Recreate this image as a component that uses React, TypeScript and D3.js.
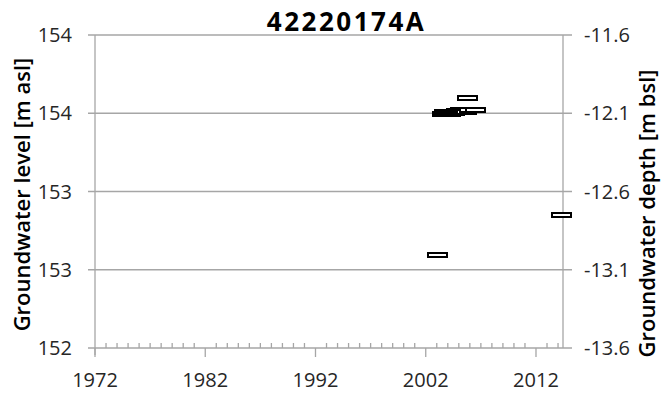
import React from "react";
import * as d3 from "d3";

const chartTitle = "42220174A";
const leftAxisTitle = "Groundwater level [m asl]";
const rightAxisTitle = "Groundwater depth [m bsl]";

// Observation dates (decimal years) and groundwater levels [m asl]
const obsDates = [
  2003.07, 2003.564, 2003.746, 2003.927, 2004.109, 2004.29, 2004.472, 2004.653, 2004.834,
  2005.016, 2005.197, 2005.379, 2005.56, 2005.741, 2005.832, 2006.014, 2006.512, 2014.27,
];
const obsLevels = [
  152.594, 153.495, 153.505, 153.495, 153.508, 153.498, 153.511, 153.502, 153.514,
  153.505, 153.518, 153.508, 153.518, 153.508, 153.597, 153.518, 153.518, 152.847,
];

const leftTickValues = [152, 152.5, 153, 153.5, 154];
const leftTickLabels = ["152", "153", "153", "154", "154"];
const rightTickValues = [-13.6, -13.1, -12.6, -12.1, -11.6];
const rightTickLabels = ["-13.6", "-13.1", "-12.6", "-12.1", "-11.6"];
const xMajorTicks = [1972, 1982, 1992, 2002, 2012];
const xMajorLabels = ["1972", "1982", "1992", "2002", "2012"];
const xDomain = [1972, 2014.45];
const yDomain = [152, 154];
const depthDomain = [-13.6, -11.6];

const W = 662;
const H = 398;
const M = { left: 95, right: 99, top: 35, bottom: 50 };

export default function App() {
  const x = d3.scaleLinear().domain(xDomain).range([M.left, W - M.right]);
  const y = d3.scaleLinear().domain(yDomain).range([H - M.bottom, M.top]);
  const yR = d3.scaleLinear().domain(depthDomain).range([H - M.bottom, M.top]);
  const minorYears = d3.range(Math.ceil(xDomain[0]), Math.floor(xDomain[1]) + 1).filter((v) => !xMajorTicks.includes(v));
  const x0 = x(xDomain[0]);
  const x1 = x(xDomain[1]);
  const yb = y(yDomain[0]);
  const yt = y(yDomain[1]);
  const grid = "#a6a6a6";
  const font = "'Open Sans', sans-serif";
  const txt = "#262626";
  const mw = 19;
  const mh = 4;

  return (
    <svg width={W} height={H} style={{ position: "absolute", left: 0, top: 0, background: "#fff" }}>
      <rect width={W} height={H} fill="#fff" />
      {leftTickValues.map((v, i) => (
        <g key={"g" + i}>
          <line x1={x0 - 7} x2={x1 + 9} y1={y(v)} y2={y(v)} stroke={grid} strokeWidth={1.3} />
          <text x={72} y={y(v)} dy="0.35em" textAnchor="end" fontFamily={font} fontSize={20} fill={txt}>
            {leftTickLabels[i]}
          </text>
        </g>
      ))}
      {rightTickValues.map((v, i) => (
        <text key={"r" + i} x={584} y={yR(v)} dy="0.35em" textAnchor="start" fontFamily={font} fontSize={20} fill={txt}>
          {rightTickLabels[i]}
        </text>
      ))}
      <line x1={x0} x2={x0} y1={yt} y2={yb + 7} stroke={grid} strokeWidth={1.3} />
      <line x1={x1} x2={x1} y1={yt} y2={yb} stroke={grid} strokeWidth={1.3} />
      {xMajorTicks.map((v, i) => (
        <g key={"x" + i}>
          <line x1={x(v)} x2={x(v)} y1={yb} y2={yb + 9} stroke={grid} strokeWidth={1.3} />
          <text x={x(v)} y={387} textAnchor="middle" fontFamily={font} fontSize={20} fill={txt}>
            {xMajorLabels[i]}
          </text>
        </g>
      ))}
      {minorYears.map((v) => (
        <line key={"m" + v} x1={x(v)} x2={x(v)} y1={yb - 5} y2={yb} stroke={grid} strokeWidth={1.3} />
      ))}
      {obsDates.map((d, i) => (
        <rect
          key={"p" + i}
          x={Math.round(x(d) - mw / 2)}
          y={Math.round(y(obsLevels[i]) - mh / 2)}
          width={mw}
          height={mh}
          fill="#fff"
          stroke="#000"
          strokeWidth={2}
        />
      ))}
      <text x={346.5} y={31} textAnchor="middle" fontFamily={font} fontWeight={700} fontSize={26} letterSpacing={2.5} fill="#000">
        {chartTitle}
      </text>
      <text transform={`translate(30,194.5) rotate(-90)`} textAnchor="middle" fontFamily={font} fontWeight={600} fontSize={22} fill="#000">
        {leftAxisTitle}
      </text>
      <text transform={`translate(655,213.5) rotate(-90)`} textAnchor="middle" fontFamily={font} fontWeight={600} fontSize={22} fill="#000">
        {rightAxisTitle}
      </text>
    </svg>
  );
}
